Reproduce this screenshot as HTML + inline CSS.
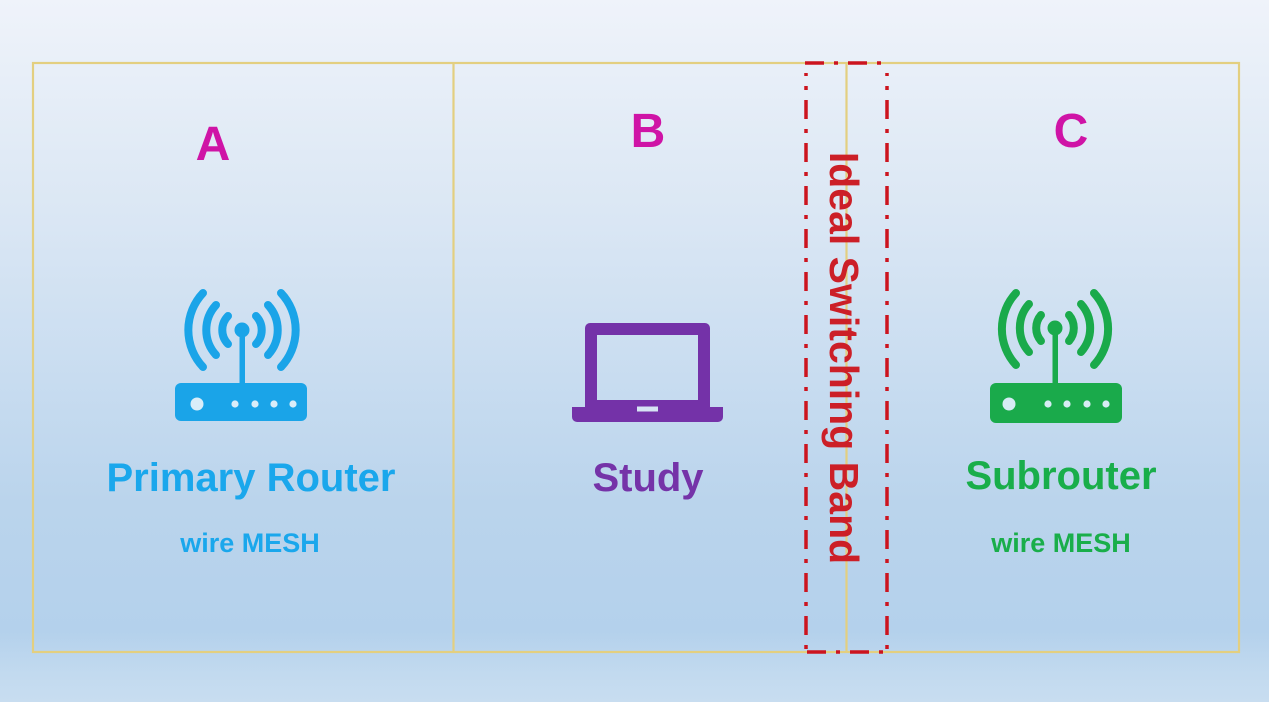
<!DOCTYPE html>
<html>
<head>
<meta charset="utf-8">
<style>
  html,body{margin:0;padding:0;}
  body{width:1269px;height:702px;overflow:hidden;}
  svg{display:block;}
  text{font-family:"Liberation Sans", Arial, sans-serif;font-weight:bold;}
</style>
</head>
<body>
<svg width="1269" height="702" viewBox="0 0 1269 702" xmlns="http://www.w3.org/2000/svg">
  <defs>
    <linearGradient id="bg" x1="0" y1="0" x2="0" y2="1">
      <stop offset="0" stop-color="#eff3fa"/>
      <stop offset="0.1" stop-color="#e8eff8"/>
      <stop offset="0.3" stop-color="#dbe7f4"/>
      <stop offset="0.5" stop-color="#cbdef1"/>
      <stop offset="0.72" stop-color="#bad4ec"/>
      <stop offset="0.9" stop-color="#b4d1ec"/>
      <stop offset="0.96" stop-color="#c2daef"/>
      <stop offset="1" stop-color="#c8ddf0"/>
    </linearGradient>
  </defs>
  <rect x="0" y="0" width="1269" height="702" fill="url(#bg)"/>

  <!-- yellow frame -->
  <g stroke="#e3cf80" stroke-width="2.2" fill="none">
    <rect x="33" y="63" width="1206" height="589"/>
    <line x1="453.5" y1="63" x2="453.5" y2="652"/>
    <line x1="846.5" y1="63" x2="846.5" y2="652"/>
  </g>

  <!-- red dash-dot band -->
  <g stroke="#cc141e" stroke-width="3.5" fill="none" stroke-dasharray="19 10 4 10">
    <line x1="805" y1="63" x2="889" y2="63"/>
    <line x1="805" y1="652" x2="889" y2="652" stroke-dashoffset="-2"/>
    <line x1="806" y1="73" x2="806" y2="652" stroke-dashoffset="-27"/>
    <line x1="887" y1="73" x2="887" y2="652" stroke-dashoffset="-27"/>
  </g>
  <text transform="translate(830,358) rotate(90)" text-anchor="middle" font-size="41" fill="#cc1f27">Ideal Switching Band</text>

  <!-- letters -->
  <text x="213" y="160" text-anchor="middle" font-size="48" fill="#cf14a6">A</text>
  <text x="648" y="147" text-anchor="middle" font-size="48" fill="#cf14a6">B</text>
  <text x="1071" y="147" text-anchor="middle" font-size="48" fill="#cf14a6">C</text>

  <!-- blue router -->
  <g fill="none" stroke="#1aa4e8" stroke-width="8" stroke-linecap="round">
    <path d="M203,293 A54,54 0 0 0 203,367"/>
    <path d="M281,293 A54,54 0 0 1 281,367"/>
    <path d="M216,305 A37,37 0 0 0 216,355"/>
    <path d="M268,305 A37,37 0 0 1 268,355"/>
    <path d="M228,316 A20,20 0 0 0 228,344"/>
    <path d="M256,316 A20,20 0 0 1 256,344"/>
  </g>
  <g fill="#1aa4e8">
    <rect x="239.5" y="330" width="5.5" height="56"/>
    <circle cx="242" cy="330" r="7.5"/>
    <rect x="175" y="383" width="132" height="38" rx="6"/>
  </g>
  <g fill="#d9edf9">
    <circle cx="197" cy="404" r="6.5"/>
    <circle cx="235" cy="404" r="3.6"/>
    <circle cx="255" cy="404" r="3.6"/>
    <circle cx="274" cy="404" r="3.6"/>
    <circle cx="293" cy="404" r="3.6"/>
  </g>

  <!-- green router -->
  <g fill="none" stroke="#1aaa4b" stroke-width="8" stroke-linecap="round">
    <path d="M1016,293 A53,53 0 0 0 1016,365"/>
    <path d="M1094,293 A53,53 0 0 1 1094,365"/>
    <path d="M1029,304 A36,36 0 0 0 1029,352"/>
    <path d="M1081,304 A36,36 0 0 1 1081,352"/>
    <path d="M1041,315 A20,20 0 0 0 1041,341"/>
    <path d="M1069,315 A20,20 0 0 1 1069,341"/>
  </g>
  <g fill="#1aaa4b">
    <rect x="1052.5" y="328" width="5.5" height="58"/>
    <circle cx="1055" cy="328" r="7.5"/>
    <rect x="990" y="383" width="132" height="40" rx="6"/>
  </g>
  <g fill="#d6ecf4">
    <circle cx="1009" cy="404" r="6.5"/>
    <circle cx="1048" cy="404" r="3.6"/>
    <circle cx="1067" cy="404" r="3.6"/>
    <circle cx="1087" cy="404" r="3.6"/>
    <circle cx="1106" cy="404" r="3.6"/>
  </g>

  <!-- laptop -->
  <g fill="#7432a8">
    <path d="M590,323 H705 A5,5 0 0 1 710,328 V409 H585 V328 A5,5 0 0 1 590,323 Z M597,335 V400 H698 V335 Z" fill-rule="evenodd"/>
    <path d="M572,407 H723 V417 A5,5 0 0 1 718,422 H577 A5,5 0 0 1 572,417 Z"/>
  </g>
  <rect x="637" y="406.5" width="21" height="5" fill="#d6e4f4"/>

  <!-- labels -->
  <text x="251" y="491" text-anchor="middle" font-size="40" fill="#1aa7ec">Primary Router</text>
  <text x="250" y="552" text-anchor="middle" font-size="27" fill="#1aa7ec">wire MESH</text>
  <text x="648" y="491" text-anchor="middle" font-size="40" fill="#7533a8">Study</text>
  <text x="1061" y="489" text-anchor="middle" font-size="40" fill="#19ae4a">Subrouter</text>
  <text x="1061" y="552" text-anchor="middle" font-size="27" fill="#19ae4a">wire MESH</text>
</svg>
</body>
</html>
